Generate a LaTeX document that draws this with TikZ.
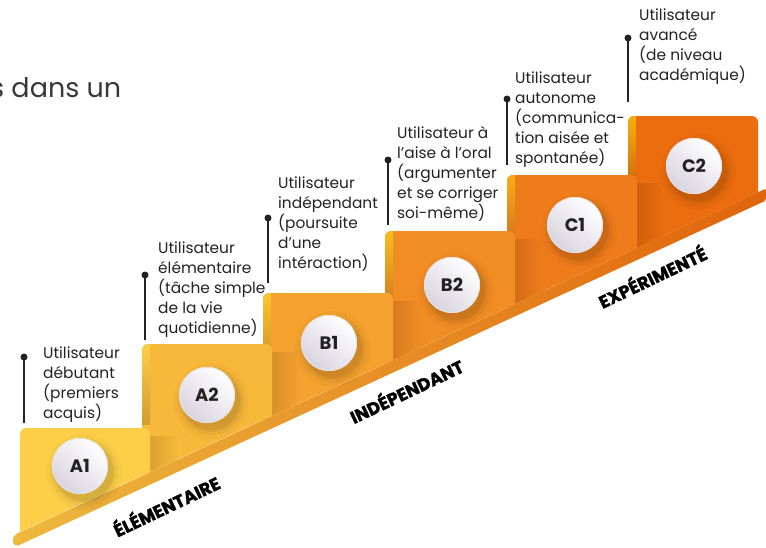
\documentclass[tikz,border=0pt]{standalone}
\usepackage{fontspec}
\setmainfont{Poppins}
\newfontfamily\catfont{Poppins}[BoldFeatures={FakeBold=1.6}]
\definecolor{cA1}{HTML}{FDCF48}
\definecolor{cA2}{HTML}{F8B83A}
\definecolor{cB1}{HTML}{F5A22E}
\definecolor{cB2}{HTML}{F28D23}
\definecolor{cC1}{HTML}{EF7C1A}
\definecolor{cC2}{HTML}{EC6D0E}
\definecolor{bandL}{HTML}{EDB93E}
\definecolor{bandR}{HTML}{E0640B}
\definecolor{txt}{HTML}{222222}
\definecolor{circG}{HTML}{D8D4DE}
\definecolor{circR}{HTML}{E6E3EA}
\tikzset{
  desc/.style={anchor=north west, align=left, inner sep=0pt, font=\fontsize{15.4}{20}\selectfont, text=txt},
  lvl/.style={font=\bfseries\fontsize{18}{18}\selectfont, text=txt, inner sep=0pt},
  cat/.style={font=\catfont\bfseries\fontsize{17.5}{17.5}\selectfont, text=black, rotate=25.5, inner sep=0pt},
  pin/.style={draw=txt, line width=1.1pt},
  pindot/.style={fill=txt},
}
\newcommand{\stepshape}[3]{% left, top, colour
  \fill[#3, rounded corners=6pt] (#1,#2) rectangle ({#1+130},600);
}
\newcommand{\stepstrip}[4]{% left, top, colour, strip colour
  \begin{scope}
    \clip[rounded corners=6pt] (#1,#2) rectangle ({#1+130},600);
    \shade[top color=#4, bottom color=#3!85!black] (#1,#2) rectangle ({#1+8},{#2+80});
  \end{scope}
}
\newcommand{\stepshadow}[3]{% right edge of lower step, its top, colour of step behind
  \shade[left color=#3!88!black, right color=#3] (#1,{#2+8}) rectangle ({#1+28},600);
}
\newcommand{\lvlcircle}[3]{% x, y, name
  \foreach \r/\o in {38/0.025,34/0.035,31/0.045,29/0.06}{
    \fill[black, opacity=\o] ({#1+4},{#2+6}) circle (\r pt);
  }
  \shade[top color=white, bottom color=circG, shading angle=-40] (#1,#2) circle (28pt);
  \draw[circR, line width=0.8pt] (#1,#2) circle (27.6pt);
  \node[lvl] (#3) at (#1,#2) {#3};
}
\begin{document}
\begin{tikzpicture}[x=1pt,y=-1pt]
\useasboundingbox (0,0) rectangle (766,547);

% partial heading text
\node[anchor=base west, inner sep=0pt, font=\fontsize{27}{27}\selectfont, text=txt!90!white] (head) at (-10,97) {s dans un};

% steps
\begin{scope}
  \clip (0,540.9) -- (766,188.5) -- (766,0) -- (0,0) -- cycle;
  \stepshape{628}{116}{cC2}
  \stepstrip{628}{116}{cC2}{cC1!60!yellow}
  \stepshadow{637}{175}{cC2}
  \stepshape{507}{175}{cC1}
  \stepstrip{507}{175}{cC1}{cB2!70!yellow}
  \stepshadow{515}{231}{cC1}
  \stepshape{385}{231}{cB2}
  \stepstrip{385}{231}{cB2}{cB1!70!yellow}
  \stepshadow{393}{293}{cB2}
  \stepshape{263}{293}{cB1}
  \stepstrip{263}{293}{cB1}{cA2!80!yellow}
  \stepshadow{272}{344}{cB1}
  \stepshape{142}{344}{cA2}
  \stepstrip{142}{344}{cA2}{cA1}
  \stepshadow{150}{428}{cA2}
  \stepshape{20}{428}{cA1}
\end{scope}

% diagonal band
\shade[left color=bandL, right color=bandR, rounded corners=2pt]
  (12,541) -- (15,534.5) -- (766,188.5) -- (766,200.5) -- (16,546.5) -- cycle;

% circles
\lvlcircle{80}{466}{A1}
\lvlcircle{207}{395}{A2}
\lvlcircle{329}{343}{B1}
\lvlcircle{452}{285}{B2}
\lvlcircle{575}{225}{C1}
\lvlcircle{694}{166}{C2}

% category labels
\node[cat] (elem) at (166,505) {ÉLÉMENTAIRE};
\node[cat] (indep) at (406,390) {INDÉPENDANT};
\node[cat] (expe) at (652,276) {EXPÉRIMENTÉ};

% descriptions
\node[desc] (t1) at (43,347) {Utilisateur\\débutant\\(premiers\\acquis)};
\node[desc] (t2) at (158,242) {Utilisateur\\élémentaire\\(tâche simple\\de la vie\\quotidienne)};
\node[desc] (t3) at (278,177) {Utilisateur\\indépendant\\(poursuite\\d’une\\intéraction)};
\node[desc] (t4) at (397,126) {Utilisateur à\\l’aise à l’oral\\(argumenter\\et se corriger\\soi-même)};
\node[desc] (t5) at (515,72) {Utilisateur\\autonome\\(communica-\\tion aisée et\\spontanée)};
\node[desc] (t6) at (639,9) {Utilisateur\\avancé\\(de niveau\\académique)};

% pins
\coordinate (p1) at (24,357);  \coordinate (q1) at (24,423);
\coordinate (p2) at (145,275); \coordinate (q2) at (145,340);
\coordinate (p3) at (268,218); \coordinate (q3) at (268,283);
\coordinate (p4) at (388,160); \coordinate (q4) at (388,225);
\coordinate (p5) at (507,99);  \coordinate (q5) at (507,165);
\coordinate (p6) at (628,38);  \coordinate (q6) at (628,102);
\foreach \i in {1,...,6}{
  \draw[pin] (p\i) -- (q\i);
  \fill[pindot] (p\i) circle (3.5pt);
}
\end{tikzpicture}
\end{document}
